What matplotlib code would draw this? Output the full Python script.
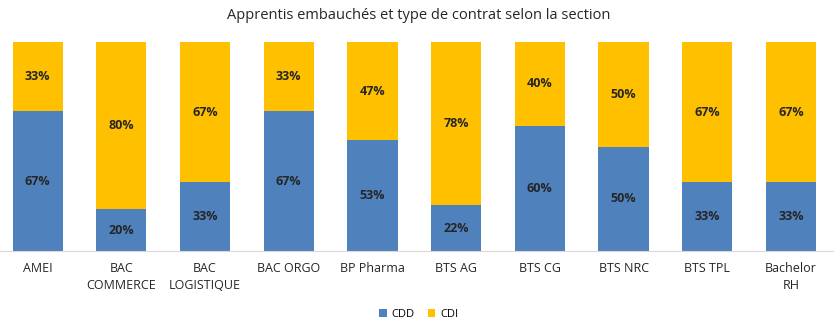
import numpy as np
import matplotlib.pyplot as plt

plt.rcParams['font.family'] = ['Open Sans', 'DejaVu Sans']

sections = ['AMEI', 'BAC\nCOMMERCE', 'BAC\nLOGISTIQUE', 'BAC ORGO', 'BP Pharma',
            'BTS AG', 'BTS CG', 'BTS NRC', 'BTS TPL', 'Bachelor\nRH']
cdd = [67, 20, 33, 67, 53, 22, 60, 50, 33, 33]
cdi = [33, 80, 67, 33, 47, 78, 40, 50, 67, 67]

fig = plt.figure(figsize=(8.37, 3.26), dpi=100)
ax = fig.add_axes([0.0, 0.230, 0.995, 0.641])

x = np.arange(len(sections))
b1 = ax.bar(x, cdd, width=0.6, color='#4F81BD', label='CDD')
b2 = ax.bar(x, cdi, width=0.6, bottom=cdd, color='#FFC000', label='CDI')

for i in range(len(sections)):
    ax.text(x[i], cdd[i] / 2, f'{cdd[i]}%', ha='center', va='center',
            fontsize=9, fontweight='bold', color='#262626')
    ax.text(x[i], cdd[i] + cdi[i] / 2, f'{cdi[i]}%', ha='center', va='center',
            fontsize=9, fontweight='bold', color='#262626')

ax.set_xlim(-0.45, 9.5)
ax.set_ylim(0, 100)
ax.set_xticks(x)
ax.set_xticklabels(sections, fontsize=9, color='#262626', linespacing=1.35)
ax.tick_params(axis='x', length=0, pad=8)
ax.set_yticks([])
for s in ['top', 'right', 'left']:
    ax.spines[s].set_visible(False)
ax.spines['bottom'].set_color('#D9D9D9')

fig.suptitle('Apprentis embauchés et type de contrat selon la section',
             fontsize=10.5, color='#262626', y=0.975)

fig.legend(handles=[b1, b2], loc='center', bbox_to_anchor=(0.5, 0.035), ncol=2,
           frameon=False, fontsize=8, handlelength=0.7, handleheight=0.7,
           columnspacing=1.2, handletextpad=0.4)

fig.savefig('out.png', dpi=100)
